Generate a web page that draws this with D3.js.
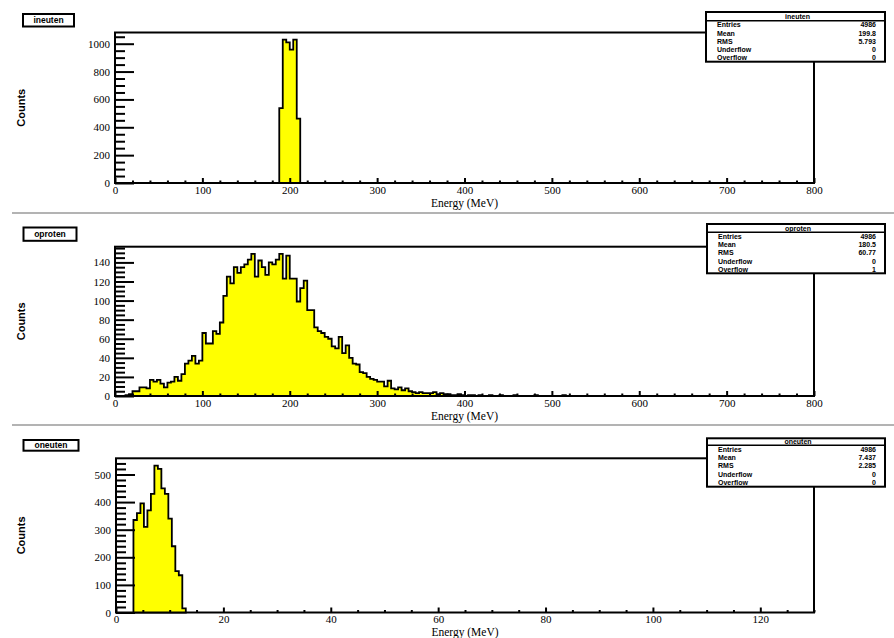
<!DOCTYPE html>
<html>
<head>
<meta charset="utf-8">
<script src="https://cdn.jsdelivr.net/npm/d3@7"></script>
<style>
  body { margin: 0; background: #fff; }
  text { fill: #000; }
</style>
</head>
<body>
<svg id="chart" width="894" height="638"></svg>
<script>
// ---- ineuten: neutron energy, 4 MeV bins from 188 MeV ----
const ineutenLow = 188;
const ineutenWidth = 4;
const ineutenCounts = [538, 1029, 1010, 957, 1029, 462];
const ineutenStats = ["4986", "199.8", "5.793", "0", "0"];

// ---- oproten: proton energy, 4 MeV bins from 12 MeV ----
const oprotenLow = 12;
const oprotenWidth = 4;
const oprotenCounts = [
  1, 2, 5, 5, 9, 9, 8, 17, 15, 17, 13, 9, 14, 15, 20, 16, 23, 34, 37, 42,
  34, 37, 66, 55, 55, 68, 65, 77, 105, 125, 118, 135, 129, 135, 138, 143, 149, 125, 142, 135,
  127, 140, 138, 143, 149, 123, 147, 123, 123, 99, 113, 121, 90, 90, 72, 68, 66, 62, 60, 52,
  50, 62, 45, 53, 40, 34, 33, 25, 24, 20, 18, 17, 15, 15, 10, 16, 8, 7, 9, 6,
  8, 5, 4, 3, 4, 3, 3, 3, 4, 2, 3, 2, 2, 1, 1, 2, 1, 0, 1, 1,
  0, 1, 0, 0, 1, 0, 0, 1, 0, 0, 0, 1, 0, 0, 0, 0, 0, 1, 0, 0,
  0, 0, 0, 0, 0, 1
];
const oprotenStats = ["4986", "180.5", "60.77", "0", "1"];

// ---- oneuten: secondary neutron energy, 0.65 MeV bins from 3.25 MeV ----
const oneutenLow = 3.25;
const oneutenWidth = 0.65;
const oneutenCounts = [335, 360, 395, 310, 370, 430, 532, 520, 450, 430, 340, 240, 150, 135, 15];
const oneutenStats = ["4986", "7.437", "2.285", "0", "0"];

// ---- axis ranges and ticks ----
const energyRangeWide = [0, 800];
const energyRangeLow = [0, 130];
const xMajorWide = [0, 100, 200, 300, 400, 500, 600, 700, 800];
const xMajorLow = [0, 20, 40, 60, 80, 100, 120];
const yMajorIneuten = [0, 200, 400, 600, 800, 1000];
const yMajorOproten = [0, 20, 40, 60, 80, 100, 120, 140];
const yMajorOneuten = [0, 100, 200, 300, 400, 500];
const statLabels = ["Entries", "Mean", "RMS", "Underflow", "Overflow"];
const histNames = ["ineuten", "oproten", "oneuten"];
const xTitle = "Energy (MeV)";
const yTitle = "Counts";

const svg = d3.select("#chart");
const serif = "'Liberation Serif', 'DejaVu Serif', serif";
const sans = "'Liberation Sans', Arial, sans-serif";

const panels = [
  { name: histNames[0], low: ineutenLow, width: ineutenWidth, counts: ineutenCounts, stats: ineutenStats,
    xDomain: energyRangeWide, xMajor: xMajorWide, xMinorStep: 20,
    yMajor: yMajorIneuten, yMinorStep: 50,
    frame: { x0: 115, x1: 814, y0: 32.5, y1: 183 },
    titleBox: { x: 23, y: 14, w: 51, h: 12.5 },
    statBox: { x: 706, y: 12, w: 179, h: 49.7, head: 8.7 },
    xTitleY: 207 },
  { name: histNames[1], low: oprotenLow, width: oprotenWidth, counts: oprotenCounts, stats: oprotenStats,
    xDomain: energyRangeWide, xMajor: xMajorWide, xMinorStep: 20,
    yMajor: yMajorOproten, yMinorStep: 5,
    frame: { x0: 115, x1: 814, y0: 246.7, y1: 396 },
    titleBox: { x: 23.5, y: 227.5, w: 53, h: 13.3 },
    statBox: { x: 707, y: 224, w: 178, h: 49.3, head: 8.3 },
    xTitleY: 420 },
  { name: histNames[2], low: oneutenLow, width: oneutenWidth, counts: oneutenCounts, stats: oneutenStats,
    xDomain: energyRangeLow, xMajor: xMajorLow, xMinorStep: 5,
    yMajor: yMajorOneuten, yMinorStep: 20,
    frame: { x0: 116, x1: 814, y0: 458.3, y1: 612.5 },
    titleBox: { x: 23.5, y: 440, w: 55, h: 10.7 },
    statBox: { x: 707, y: 438.3, w: 178, h: 48.4, head: 6.9 },
    xTitleY: 636 }
];

// pad separators
[213, 425].forEach(yy => {
  svg.append("line").attr("x1", 12).attr("x2", 894).attr("y1", yy).attr("y2", yy)
    .attr("stroke", "#9a9a9a").attr("stroke-width", 1.5);
});

panels.forEach(p => {
  const f = p.frame;
  const g = svg.append("g");
  const x = d3.scaleLinear().domain(p.xDomain).range([f.x0, f.x1]);
  const yMax = d3.max(p.counts) * 1.05;
  const y = d3.scaleLinear().domain([0, yMax]).range([f.y1, f.y0]);

  // frame
  g.append("rect").attr("x", f.x0).attr("y", f.y0)
    .attr("width", f.x1 - f.x0).attr("height", f.y1 - f.y0)
    .attr("fill", "#fff").attr("stroke", "#000").attr("stroke-width", 2);

  // histogram outline as steps
  const pts = [[p.low, 0]];
  p.counts.forEach((c, i) => {
    pts.push([p.low + i * p.width, c]);
    pts.push([p.low + (i + 1) * p.width, c]);
  });
  pts.push([p.low + p.counts.length * p.width, 0]);
  const line = d3.line().x(d => x(d[0])).y(d => y(d[1]));
  g.append("path").attr("d", line(pts) + "Z")
    .attr("fill", "#ffff00").attr("stroke", "#000").attr("stroke-width", 1.8)
    .attr("stroke-linejoin", "miter");

  // y axis: long inward major ticks, shorter minor ticks
  const yMinor = d3.range(0, yMax + 1e-9, p.yMinorStep).filter(v => !p.yMajor.includes(v));
  const yAxMinor = g.append("g").attr("transform", `translate(${f.x0},0)`)
    .call(d3.axisLeft(y).tickValues(yMinor).tickSize(-10).tickFormat(""));
  const yAx = g.append("g").attr("transform", `translate(${f.x0},0)`)
    .call(d3.axisLeft(y).tickValues(p.yMajor).tickSize(-19).tickPadding(5).tickFormat(d3.format("d")));

  // x axis: short inward ticks
  const xMinor = d3.range(p.xDomain[0], p.xDomain[1] + 1e-9, p.xMinorStep).filter(v => !p.xMajor.includes(v));
  const xAxMinor = g.append("g").attr("transform", `translate(0,${f.y1})`)
    .call(d3.axisBottom(x).tickValues(xMinor).tickSize(-2.5).tickFormat(""));
  const xAx = g.append("g").attr("transform", `translate(0,${f.y1})`)
    .call(d3.axisBottom(x).tickValues(p.xMajor).tickSize(-5).tickPadding(3).tickFormat(d3.format("d")));

  [yAxMinor, yAx, xAxMinor, xAx].forEach(ax => {
    ax.select(".domain").remove();
    ax.selectAll(".tick line").attr("stroke", "#000").attr("stroke-width", 2);
    ax.selectAll("text").attr("font-family", serif).attr("font-size", 11).attr("fill", "#000");
  });

  // axis titles
  g.append("text").attr("x", (f.x0 + f.x1) / 2).attr("y", p.xTitleY)
    .attr("text-anchor", "middle").attr("font-family", serif).attr("font-size", 11.5)
    .text(xTitle);
  g.append("text")
    .attr("transform", `translate(25,${(f.y0 + f.y1) / 2}) rotate(-90)`)
    .attr("text-anchor", "middle").attr("font-family", sans).attr("font-weight", "bold")
    .attr("font-size", 11).text(yTitle);

  // histogram name box
  const tb = p.titleBox;
  g.append("rect").attr("x", tb.x).attr("y", tb.y).attr("width", tb.w).attr("height", tb.h)
    .attr("fill", "#fff").attr("stroke", "#000").attr("stroke-width", 2);
  g.append("text").attr("x", tb.x + tb.w / 2).attr("y", tb.y + tb.h / 2 + 3)
    .attr("text-anchor", "middle").attr("font-family", sans).attr("font-weight", "bold")
    .attr("font-size", 8.5).text(p.name);

  // statistics box
  const sb = p.statBox;
  g.append("rect").attr("x", sb.x).attr("y", sb.y).attr("width", sb.w).attr("height", sb.h)
    .attr("fill", "#fff").attr("stroke", "#000").attr("stroke-width", 2);
  g.append("line").attr("x1", sb.x).attr("x2", sb.x + sb.w)
    .attr("y1", sb.y + sb.head).attr("y2", sb.y + sb.head)
    .attr("stroke", "#000").attr("stroke-width", 1.5);
  g.append("text").attr("x", sb.x + sb.w / 2 + 2).attr("y", sb.y + sb.head / 2 + 2.6)
    .attr("text-anchor", "middle").attr("font-family", sans).attr("font-weight", "bold")
    .attr("font-size", 7).text(p.name);
  const rowH = (sb.h - sb.head) / statLabels.length;
  statLabels.forEach((lab, i) => {
    const ry = sb.y + sb.head + rowH * (i + 0.5) + 2.5;
    g.append("text").attr("x", sb.x + 11).attr("y", ry)
      .attr("font-family", sans).attr("font-weight", "bold").attr("font-size", 7).text(lab);
    g.append("text").attr("x", sb.x + sb.w - 9).attr("y", ry).attr("text-anchor", "end")
      .attr("font-family", sans).attr("font-weight", "bold").attr("font-size", 7).text(p.stats[i]);
  });
});
</script>
</body>
</html>
